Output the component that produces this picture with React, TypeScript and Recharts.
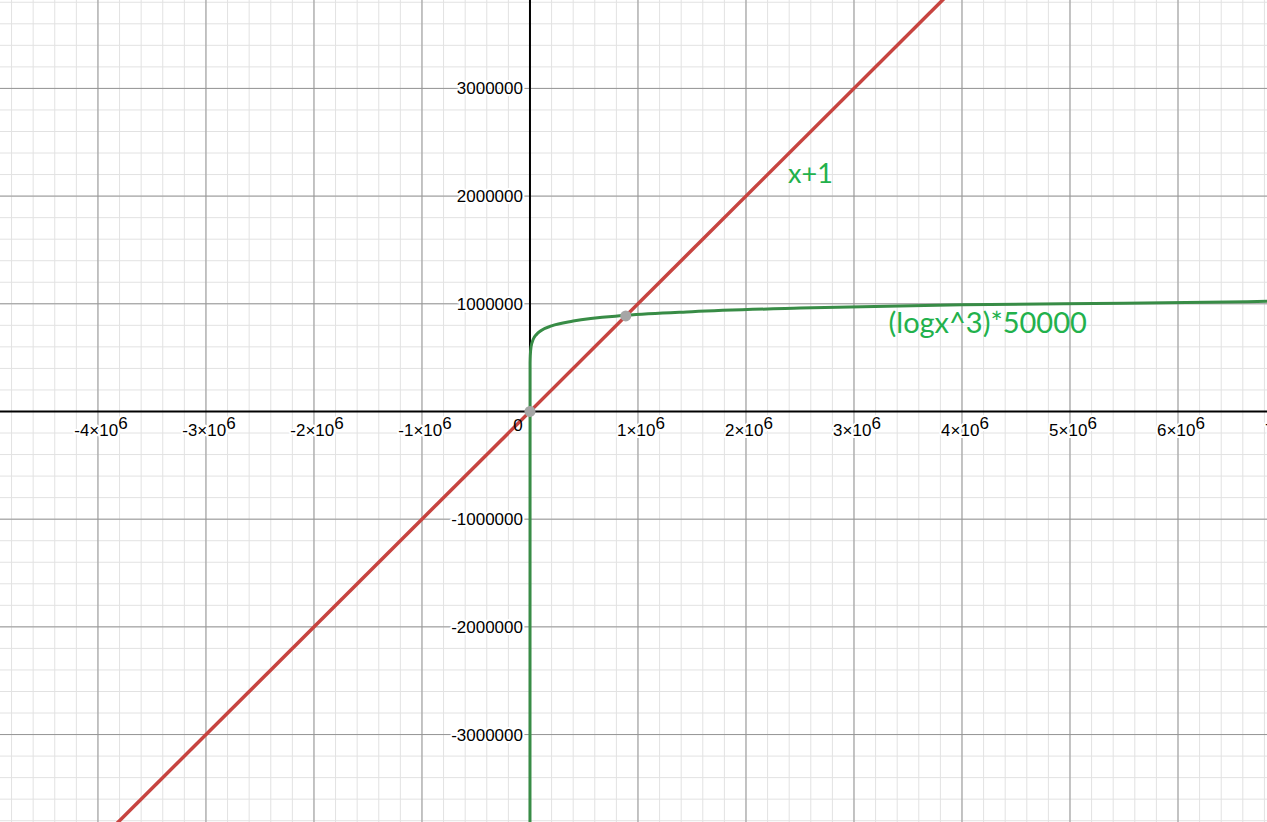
import { LineChart, Line, XAxis, YAxis, ReferenceLine, ReferenceDot } from "recharts";

// visible window of the graph
const xDomain = [-4907000, 6824000];
const yDomain = [-3812000, 3821000];

// major ticks + their labels
const xMajorTicks = [-4000000, -3000000, -2000000, -1000000, 1000000, 2000000, 3000000, 4000000, 5000000, 6000000, 7000000];
const xTickLabels = ["-4", "-3", "-2", "-1", "1", "2", "3", "4", "5", "6", "7"];
const yMajorTicks = [-3000000, -2000000, -1000000, 1000000, 2000000, 3000000];
const yTickLabels = ["-3000000", "-2000000", "-1000000", "1000000", "2000000", "3000000"];

// minor grid every 200000
const xMinorTicks = Array.from({ length: 59 }, (_, i) => -4800000 + i * 200000);
const yMinorTicks = Array.from({ length: 39 }, (_, i) => -3800000 + i * 200000);

// red line: x+1
const lineX = [-5000000, 7000000];
const lineY = [-4999999, 7000001];

// green curve: (logx^3)*50000
const logX = [0, 1000, 3000, 10000, 30000, 60000, 100000, 200000, 400000, 890000, 1500000, 2500000, 4000000, 5500000, 7000000];
const logY = [-3900000, 450000, 520000, 600000, 670000, 715000, 750000, 795000, 840000, 893000, 927000, 960000, 990000, 1005000, 1025000];

// grey intersection dots
const crossX = [1, 887000];
const crossY = [0, 887000];

const redData = lineX.map((x, i) => ({ x, y: lineY[i] }));
const greenData = logX.map((x, i) => ({ x, y: logY[i] }));

const tickFont = "'Liberation Sans', Arial, sans-serif";
const noteFont = "Lato, 'Open Sans', sans-serif";

const XTickLabel = (props: any) => {
  const vb = props.viewBox || props;
  return (
    <text
      x={vb.x + 3}
      y={vb.y + 25}
      textAnchor="middle"
      fontFamily={tickFont}
      fontSize={17}
      fill="#000"
      stroke="#fff"
      strokeWidth={4}
      strokeLinejoin="round"
      paintOrder="stroke"
    >
      {props.base}×10<tspan dy={-7}>6</tspan>
    </text>
  );
};

const YTickLabel = (props: any) => {
  const vb = props.viewBox || props;
  return (
    <text
      x={vb.x - 7}
      y={vb.y + 6}
      textAnchor="end"
      fontFamily={tickFont}
      fontSize={17}
      fill="#000"
      stroke="#fff"
      strokeWidth={4}
      strokeLinejoin="round"
      paintOrder="stroke"
    >
      {props.text}
    </text>
  );
};

const OriginLabel = (props: any) => {
  const vb = props.viewBox || props;
  return (
    <text x={vb.x - 12} y={vb.y + 20} textAnchor="middle" fontFamily={tickFont} fontSize={17} fill="#000">
      0
    </text>
  );
};

const Note = (props: any) => {
  const vb = props.viewBox || props;
  return (
    <text x={vb.x} y={vb.y} fontFamily={noteFont} fontSize={props.size} fill="#22b14c">
      {props.text}
    </text>
  );
};

export default function App() {
  return (
    <div style={{ background: "#fff", width: 1267, height: 822 }}>
      <style>{"body{margin:0;background:#fff}"}</style>
      <LineChart width={1267} height={822} margin={{ top: 0, right: 0, bottom: 0, left: 0 }}>
        <XAxis type="number" dataKey="x" domain={xDomain} allowDataOverflow hide />
        <YAxis type="number" dataKey="y" domain={yDomain} allowDataOverflow hide />

        {xMinorTicks.map((v) => (
          <ReferenceLine key={"xm" + v} x={v} stroke="#e2e2e2" strokeWidth={1} />
        ))}
        {yMinorTicks.map((v) => (
          <ReferenceLine key={"ym" + v} y={v} stroke="#e2e2e2" strokeWidth={1} />
        ))}
        {xMajorTicks.map((v) => (
          <ReferenceLine key={"xM" + v} x={v} stroke="#959595" strokeWidth={1} />
        ))}
        {yMajorTicks.map((v) => (
          <ReferenceLine key={"yM" + v} y={v} stroke="#959595" strokeWidth={1} />
        ))}
        <ReferenceLine x={0} stroke="#000" strokeWidth={2} />
        <ReferenceLine y={0} stroke="#000" strokeWidth={2} />

        <ReferenceDot x={0} y={0} r={0} label={<OriginLabel />} />

        <Line
          data={redData}
          dataKey="y"
          type="linear"
          stroke="#c74440"
          strokeWidth={3.5}
          dot={false}
          isAnimationActive={false}
        />
        <Line
          data={greenData}
          dataKey="y"
          type="monotone"
          stroke="#388c46"
          strokeWidth={3}
          dot={false}
          isAnimationActive={false}
        />

        {crossX.map((x, i) => (
          <ReferenceDot key={"c" + i} x={x} y={crossY[i]} r={5.5} fill="#a6a6a6" stroke="none" />
        ))}

        {xMajorTicks.map((v, i) => (
          <ReferenceDot
            key={"xl" + v}
            x={v}
            y={0}
            r={0}
            ifOverflow="visible"
            label={<XTickLabel base={xTickLabels[i]} />}
          />
        ))}
        {yMajorTicks.map((v, i) => (
          <ReferenceDot key={"yl" + v} x={0} y={v} r={0} label={<YTickLabel text={yTickLabels[i]} />} />
        ))}
        <ReferenceDot x={2390000} y={2120000} r={0} label={<Note text="x+1" size={27} />} />
        <ReferenceDot x={3320000} y={725000} r={0} label={<Note text="(logx^3)*50000" size={29} />} />
      </LineChart>
    </div>
  );
}
